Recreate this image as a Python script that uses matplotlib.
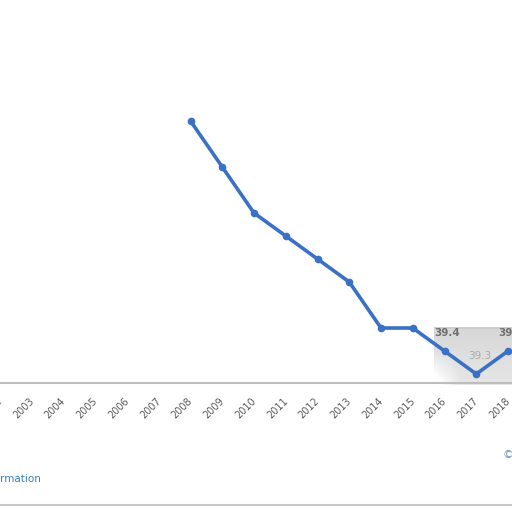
import numpy as np
import matplotlib
matplotlib.use("Agg")
import matplotlib.pyplot as plt
from matplotlib.lines import Line2D
from matplotlib.transforms import ScaledTranslation

years = [2008, 2009, 2010, 2011, 2012, 2013, 2014, 2015, 2016, 2017, 2018]
values = [40.4, 40.2, 40.0, 39.9, 39.8, 39.7, 39.5, 39.5, 39.4, 39.3, 39.4]
tick_years = list(range(2002, 2019))
labeled = {2016: "39.4", 2017: "39.3", 2018: "39.4"}

W = H = 512
fig = plt.figure(figsize=(5.12, 5.12), dpi=100)
fig.patch.set_facecolor("white")

# background gray shading behind the last labels
bg = fig.add_axes([434 / W, (512 - 385) / H, 78 / W, 58 / H])
gx = np.linspace(0, 1, 78)
gy = np.linspace(0, 1, 58)
GX, GY = np.meshgrid(gx, gy)
grad = 0.84 + 0.14 * np.clip(1 - GX * 3, 0, 1) * np.clip(1 - GY * 1.5, 0, 1) + 0.06 * (1 - GY)
grad[-2:, :] = 0.80
bg.imshow(np.clip(grad, 0, 1), cmap="gray", vmin=0, vmax=1, aspect="auto",
          extent=[0, 1, 0, 1], origin="lower")
bg.axis("off")
bg.set_zorder(0)

ax = fig.add_axes([0, (512 - 383) / H, 1, 383 / H])
ax.set_zorder(1)
ax.patch.set_alpha(0)
x0 = 2008 - 188 / 32.0
ax.set_xlim(x0, x0 + 512 / 32.0)
ax.set_ylim(39.4 - 32 / 230.0, 39.4 + 351 / 230.0)

ax.plot(years, values, color="#3a70c6", lw=2.6, marker="o", ms=4.5,
        solid_joinstyle="round", zorder=3)

for y, t in labeled.items():
    v = values[years.index(y)]
    if y == 2017:
        ax.annotate(t, (y, v), xytext=(2.2, 13), textcoords="offset points",
                    ha="center", va="center", fontsize=7.5, color="#a8a8a8")
    else:
        ax.annotate(t, (y, v), xytext=(2.2, 13), textcoords="offset points",
                    ha="center", va="center", fontsize=7.5, color="#707070",
                    fontweight="bold")

for s in ["top", "left", "right"]:
    ax.spines[s].set_visible(False)
ax.spines["bottom"].set_color("#bdbdbd")
ax.spines["bottom"].set_linewidth(1.5)
ax.set_yticks([])
ax.set_xticks(tick_years)
ax.set_xticklabels([str(y) for y in tick_years], rotation=45, ha="right",
                   fontsize=7, color="#5a5a5a")
ax.tick_params(axis="x", length=0, pad=9)
off = ScaledTranslation(0.04, 0, fig.dpi_scale_trans)
for lbl in ax.get_xticklabels():
    lbl.set_transform(lbl.get_transform() + off)

# lower frame line
fig.add_artist(Line2D([0, 1], [(512 - 505) / H] * 2, color="#c8c8c8", lw=1.5,
                      transform=fig.transFigure))
fig.text(0 / W, (512 - 479) / H, "rmation", color="#3a7fbf", fontsize=7.5,
         ha="left", va="center")
fig.text(503 / W, (512 - 455) / H, "©", color="#6a8fbf", fontsize=8,
         ha="left", va="center")

fig.savefig("out.png", dpi=100, facecolor="white")
